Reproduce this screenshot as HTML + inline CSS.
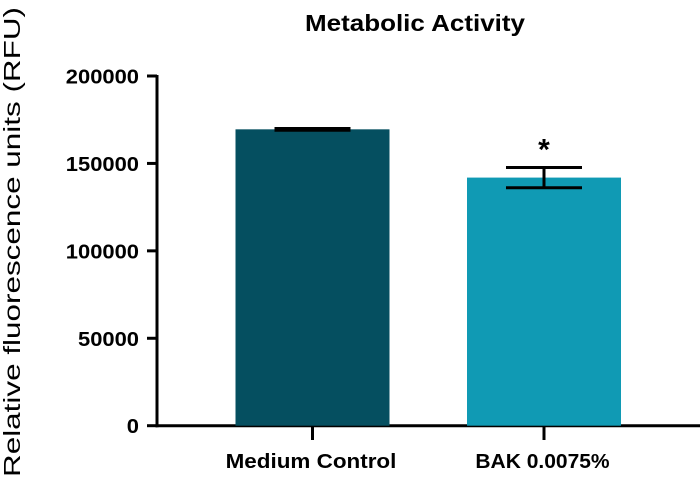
<!DOCTYPE html>
<html><head><meta charset="utf-8"><style>
html,body{margin:0;padding:0;background:#fff;}
svg{display:block;font-family:"Liberation Sans",Arial,sans-serif;}
</style></head><body>
<svg id="chart" width="700" height="485" viewBox="0 0 700 485">
<text x="415" y="31" text-anchor="middle" font-size="23" font-weight="bold" textLength="220" lengthAdjust="spacingAndGlyphs">Metabolic Activity</text>
<text transform="translate(20,242) rotate(-90)" text-anchor="middle" font-size="23" textLength="470" lengthAdjust="spacingAndGlyphs">Relative fluorescence units (RFU)</text>
<g id="axes"></g>
<g id="bars"></g>
</svg>
<script>
const categories = ["Medium Control", "BAK 0.0075%"];
const values = [169500, 141900];
const errors = [500, 5800];
const colors = ["#054f60", "#109ab4"];
const yTicks = [0, 50000, 100000, 150000, 200000];
const yTickLabels = ["0", "50000", "100000", "150000", "200000"];
const significance = ["", "*"];

const svg = document.getElementById('chart');
const axes = document.getElementById('axes');
const barsG = document.getElementById('bars');
const NS = 'http://www.w3.org/2000/svg';
const y0 = 425.7, yTop = 76, yMax = 200000, axisX = 157;
const centers = [312.5, 544], barW = 154;
function y(v){ return y0 - (v / yMax) * (y0 - yTop); }
function mk(tag, attrs, parent){
  const e = document.createElementNS(NS, tag);
  for (const k in attrs) e.setAttribute(k, attrs[k]);
  parent.appendChild(e); return e;
}
categories.forEach((c, i) => {
  const cx = centers[i];
  const r = mk('rect', {x: cx - barW/2, y: y(values[i]), width: barW, height: y0 - y(values[i]), fill: colors[i]}, barsG);
  
  
  const hi = y(values[i] + errors[i]), lo = y(values[i] - errors[i]);
  const eg = mk('g', {stroke: '#000', 'stroke-width': 3}, barsG);
  
  
  mk('line', {x1: cx, x2: cx, y1: hi, y2: lo}, eg);
  mk('line', {x1: cx - 38, x2: cx + 38, y1: hi, y2: hi}, eg);
  mk('line', {x1: cx - 38, x2: cx + 38, y1: lo, y2: lo}, eg);
  if (significance[i]) {
    const s = mk('text', {x: cx, y: hi - 8, 'text-anchor': 'middle', 'font-size': 30, 'font-weight': 'bold'}, barsG);
    s.textContent = significance[i];
    
    
  }
  const t = mk('line', {x1: cx, x2: cx, y1: y0, y2: 440, stroke: '#000', 'stroke-width': 3}, axes);
  
  
  const l = mk('text', {x: cx - 1.5, y: 468, 'text-anchor': 'middle', 'font-size': 20, 'font-weight': 'bold', textLength: c.length * 12.2, lengthAdjust: 'spacingAndGlyphs'}, axes);
  l.textContent = c;
  
  
});
yTicks.forEach((v, i) => {
  const t = mk('line', {x1: 147, x2: axisX, y1: y(v), y2: y(v), stroke: '#000', 'stroke-width': 3}, axes);
  
  
  const s = yTickLabels[i];
  const l = mk('text', {x: 139, y: y(v) + 7.5, 'text-anchor': 'end', 'font-size': 20, 'font-weight': 'bold', textLength: s.length * 12.2, lengthAdjust: 'spacingAndGlyphs'}, axes);
  l.textContent = s;
  
  
});
const ya = mk('line', {x1: axisX, x2: axisX, y1: yTop - 1, y2: y0 + 1.5, stroke: '#000', 'stroke-width': 3}, axes);


const xa = mk('line', {x1: axisX - 1.5, x2: 700, y1: y0, y2: y0, stroke: '#000', 'stroke-width': 3}, axes);


</script>
</body></html>
